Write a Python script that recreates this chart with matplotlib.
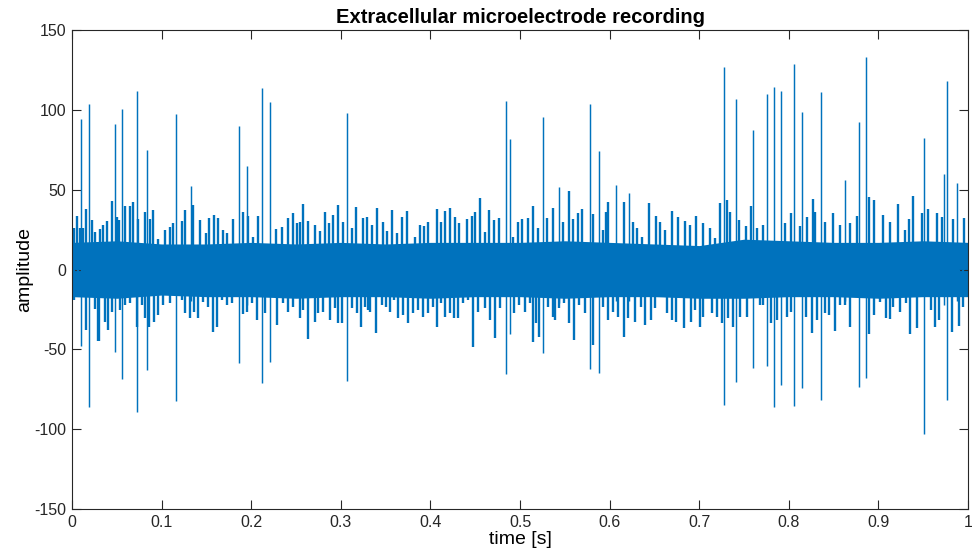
import numpy as np
import matplotlib
matplotlib.use('Agg')
import matplotlib.pyplot as plt

########################################################################
### data read from the recording ###
########################################################################

#large spikes: time, peak, trough
spike_t  = [0.0097, 0.0186, 0.0484, 0.0555, 0.0729, 0.0840, 0.1160, 0.1324,
            0.1858, 0.1950, 0.2117, 0.2213, 0.3073, 0.4840, 0.4884, 0.5253,
            0.5435, 0.5778, 0.5878, 0.6075, 0.6217, 0.7273, 0.7407, 0.7600,
            0.7762, 0.7838, 0.7910, 0.8056, 0.8150, 0.8356, 0.8627, 0.8788,
            0.8862, 0.9505, 0.9729, 0.9764, 0.9873]
spike_hi = [94.2, 103.6, 91.3, 100.3, 112.0, 74.8, 97.4, 52.3,
            89.9, 65.0, 114.0, 104.9, 98.2, 105.5, 81.9, 95.7,
            51.5, 103.8, 74.0, 53.1, 47.9, 127.0, 106.6, 87.2,
            109.9, 114.5, 111.8, 128.5, 98.4, 111.3, 56.2, 92.4,
            132.9, 82.5, 59.8, 117.8, 54.0]
spike_lo = [-47.9, -85.9, -51.9, -68.8, -89.0, -62.9, -82.5, -20.0,
            -58.5, -22.0, -70.9, -57.7, -70.0, -65.2, -40.4, -52.5,
            -21.0, -62.1, -64.8, -20.0, -20.0, -84.8, -70.2, -61.9,
            -60.2, -85.9, -72.1, -85.5, -74.0, -81.9, -20.0, -73.8,
            -68.1, -103.2, -22.0, -81.7, -20.0]

#smaller positive excursions: time, value
up_t = [0.0022, 0.0052, 0.0089, 0.0126, 0.0153, 0.0227, 0.0257, 0.0312, 0.0350,
        0.0387, 0.0446, 0.0498, 0.0528, 0.0592, 0.0647, 0.0685, 0.0740, 0.0811,
        0.0871, 0.0904, 0.0963, 0.1038, 0.1094, 0.1131, 0.1224, 0.1261, 0.1354,
        0.1429, 0.1492, 0.1533, 0.1585, 0.1633, 0.1682, 0.1726, 0.1801, 0.1912,
        0.1968, 0.2024, 0.2080, 0.2273, 0.2340, 0.2414, 0.2463, 0.2507, 0.2545,
        0.2582, 0.2638, 0.2712, 0.2768, 0.2824, 0.2872, 0.2917, 0.2972, 0.3028,
        0.3121, 0.3166, 0.3251, 0.3289, 0.3345, 0.3400, 0.3467, 0.3512, 0.3568,
        0.3624, 0.3679, 0.3743, 0.3828, 0.3884, 0.3929, 0.3977, 0.4070, 0.4115,
        0.4167, 0.4219, 0.4275, 0.4323, 0.4405, 0.4461, 0.4498, 0.4554, 0.4609,
        0.4658, 0.4710, 0.4769, 0.4926, 0.4981, 0.5019, 0.5093, 0.5149, 0.5205,
        0.5305, 0.5372, 0.5476, 0.5550, 0.5595, 0.5651, 0.5688, 0.5818, 0.5930,
        0.5960, 0.5986, 0.6161, 0.6265, 0.6302, 0.6358, 0.6444, 0.6518, 0.6563,
        0.6619, 0.6693, 0.6767, 0.6842, 0.6897, 0.6964, 0.7046, 0.7121, 0.7176,
        0.7232, 0.7314, 0.7344, 0.7448, 0.7522, 0.7578, 0.7641, 0.7708, 0.7958,
        0.8021, 0.8125, 0.8199, 0.8266, 0.8289, 0.8404, 0.8497, 0.8571, 0.8683,
        0.8757, 0.8899, 0.8951, 0.9055, 0.9129, 0.9222, 0.9297, 0.9345, 0.9382,
        0.9483, 0.9557, 0.9650, 0.9706, 0.9836, 0.9959]
up_v = [25.8, 33.5, 25.8, 25.8, 37.7, 31.0, 23.7, 25.2, 27.9,
        30.4, 42.9, 33.1, 31.0, 40.0, 40.0, 42.1, 31.6, 36.0,
        31.6, 37.3, 18.9, 24.7, 26.8, 29.3, 30.4, 37.3, 40.6,
        31.0, 22.6, 32.0, 34.1, 32.0, 24.7, 22.6, 31.4, 36.2,
        33.5, 20.5, 33.7, 25.2, 26.8, 32.0, 35.2, 28.9, 29.5,
        40.8, 30.6, 27.9, 24.3, 36.2, 29.3, 34.1, 40.4, 30.0,
        25.8, 39.4, 32.0, 33.1, 27.9, 38.3, 29.5, 24.3, 37.3,
        22.6, 33.1, 36.6, 20.5, 27.9, 27.2, 30.0, 37.7, 30.0,
        36.6, 38.3, 32.6, 29.3, 31.4, 33.5, 35.8, 44.6, 23.3,
        37.3, 31.0, 32.0, 20.5, 29.5, 31.4, 32.0, 39.8, 25.8,
        32.4, 38.3, 30.0, 49.0, 31.4, 35.2, 37.9, 34.5, 24.7,
        36.2, 42.5, 42.5, 30.0, 25.8, 20.5, 41.4, 33.5, 30.0,
        24.7, 36.6, 32.6, 30.6, 27.9, 33.7, 28.9, 25.8, 19.9,
        41.9, 43.5, 35.8, 31.0, 27.2, 39.8, 25.8, 27.9, 28.9,
        35.6, 27.2, 33.1, 43.9, 36.2, 30.0, 35.2, 27.9, 28.9,
        33.5, 45.2, 43.5, 34.1, 30.0, 41.0, 24.7, 31.4, 46.0,
        35.6, 37.7, 35.2, 32.6, 31.4, 32.0]

#smaller negative excursions: time, value
dn_t = [0.0022, 0.0071, 0.0156, 0.0219, 0.0257, 0.0294, 0.0301, 0.0350, 0.0372,
        0.0406, 0.0443, 0.0536, 0.0592, 0.0647, 0.0722, 0.0778, 0.0815, 0.0859,
        0.0915, 0.0963, 0.1019, 0.1094, 0.1224, 0.1261, 0.1317, 0.1362, 0.1410,
        0.1466, 0.1522, 0.1570, 0.1615, 0.1670, 0.1726, 0.1782, 0.1905, 0.1949,
        0.2005, 0.2061, 0.2154, 0.2284, 0.2359, 0.2414, 0.2470, 0.2545, 0.2582,
        0.2638, 0.2712, 0.2749, 0.2805, 0.2879, 0.2935, 0.2972, 0.3010, 0.3121,
        0.3177, 0.3222, 0.3270, 0.3307, 0.3326, 0.3393, 0.3456, 0.3504, 0.3549,
        0.3594, 0.3642, 0.3698, 0.3754, 0.3810, 0.3865, 0.3921, 0.3977, 0.4033,
        0.4077, 0.4115, 0.4163, 0.4219, 0.4263, 0.4312, 0.4368, 0.4423, 0.4479,
        0.4535, 0.4609, 0.4665, 0.4721, 0.4777, 0.4933, 0.4993, 0.5056, 0.5112,
        0.5141, 0.5179, 0.5212, 0.5316, 0.5365, 0.5391, 0.5439, 0.5491, 0.5551,
        0.5603, 0.5662, 0.5725, 0.5818, 0.5930, 0.5986, 0.6042, 0.6097, 0.6161,
        0.6209, 0.6283, 0.6347, 0.6395, 0.6458, 0.6507, 0.6563, 0.6637, 0.6700,
        0.6741, 0.6827, 0.6905, 0.6953, 0.7005, 0.7039, 0.7140, 0.7202, 0.7251,
        0.7325, 0.7374, 0.7455, 0.7537, 0.7679, 0.7716, 0.7798, 0.7872, 0.7976,
        0.8021, 0.8192, 0.8255, 0.8311, 0.8404, 0.8452, 0.8512, 0.8571, 0.8627,
        0.8683, 0.8739, 0.8891, 0.8955, 0.9018, 0.9085, 0.9129, 0.9167, 0.9241,
        0.9304, 0.9349, 0.9427, 0.9583, 0.9632, 0.9680, 0.9821, 0.9900, 0.9949]
dn_v = [-19.1, -17.0, -37.9, -17.0, -24.9, -44.8, -44.8, -18.1, -32.7,
        -37.9, -26.4, -25.4, -22.2, -21.2, -35.8, -22.2, -30.6, -35.8,
        -32.7, -28.5, -22.2, -21.2, -19.1, -27.4, -30.6, -26.4, -30.6,
        -20.1, -23.3, -39.0, -35.8, -19.1, -22.2, -21.2, -27.9, -26.4,
        -21.2, -31.6, -27.4, -34.7, -21.2, -26.4, -23.3, -30.6, -25.4,
        -43.7, -32.7, -27.4, -26.4, -31.6, -24.3, -33.7, -33.7, -24.3,
        -27.4, -35.8, -23.3, -25.4, -26.4, -40.0, -22.2, -23.3, -26.4,
        -19.1, -30.6, -28.5, -33.3, -27.4, -25.4, -29.5, -27.4, -23.3,
        -36.2, -21.2, -29.5, -27.4, -30.6, -30.6, -21.2, -19.1, -48.3,
        -26.4, -24.3, -31.6, -43.1, -24.3, -27.4, -22.2, -26.4, -21.2,
        -45.2, -33.3, -42.5, -23.3, -29.5, -31.6, -24.3, -21.2, -33.7,
        -44.2, -22.2, -27.4, -47.3, -23.3, -31.6, -26.4, -29.5, -42.1,
        -30.6, -32.7, -23.3, -34.7, -31.6, -24.3, -17.0, -27.4, -31.6,
        -32.7, -36.6, -32.7, -25.4, -36.2, -29.5, -27.5, -29.5, -33.7,
        -30.6, -35.8, -29.5, -29.5, -22.2, -22.2, -33.7, -31.6, -29.5,
        -26.4, -29.5, -40.0, -31.6, -27.5, -28.5, -38.3, -22.2, -22.2,
        -35.8, -16.0, -40.4, -28.5, -20.1, -30.6, -31.2, -23.3, -26.4,
        -21.2, -40.4, -36.8, -25.4, -35.8, -31.6, -38.9, -35.1, -23.3]

#dense noise band: time, upper and lower edge
core_t  = [0.0, 0.05, 0.1, 0.15, 0.2, 0.25, 0.3, 0.35, 0.4, 0.45, 0.5,
           0.55, 0.6, 0.65, 0.7, 0.75, 0.8, 0.85, 0.9, 0.95, 1.0]
core_hi = [17, 18, 16, 16, 17, 16, 17, 16, 17, 17, 17,
           18, 17, 16, 15, 19, 18, 17, 17, 18, 17]
core_lo = [-17, -18, -16, -17, -17, -18, -17, -17, -18, -17, -17,
           -18, -17, -17, -18, -18, -17, -17, -18, -17, -17]

########################################################################
### plot ###
########################################################################

line_col = '#0072BD'
axis_col = '#262626'

plt.rcParams['font.family'] = ['Liberation Sans', 'DejaVu Sans']
plt.rcParams['axes.unicode_minus'] = False

fig = plt.figure(figsize=(9.72, 5.56), dpi=100)
ax = fig.add_axes([0.0741, 0.0845, 0.9218, 0.8615])

#dense band
ax.fill_between(core_t, core_lo, core_hi, color=line_col, linewidth=0)

#excursions
ax.vlines(up_t, 0, up_v, color=line_col, linewidth=1.7)
ax.vlines(dn_t, dn_v, 0, color=line_col, linewidth=1.7)
ax.vlines(spike_t, spike_lo, spike_hi, color=line_col, linewidth=1.05)

#limits and ticks
ax.set_xlim(0, 1)
ax.set_ylim(-150, 150)
ax.set_xticks(np.arange(0, 1.01, 0.1))
ax.set_xticklabels(['0', '0.1', '0.2', '0.3', '0.4', '0.5', '0.6', '0.7',
                    '0.8', '0.9', '1'])
ax.set_yticks(np.arange(-150, 151, 50))
ax.tick_params(direction='in', length=6.5, width=0.8, top=True, right=True,
               labelsize=11.5, colors=axis_col, pad=4)
for sp in ax.spines.values():
    sp.set_color(axis_col)
    sp.set_linewidth(0.8)

#labels
ax.set_xlabel('time [s]', fontsize=14, color='black', labelpad=1)
ax.set_ylabel('amplitude', fontsize=14, color='black', labelpad=1)
ax.set_title('Extracellular microelectrode recording', fontsize=14.5,
             fontweight='bold', pad=5)

fig.savefig('out.png', dpi=100)
